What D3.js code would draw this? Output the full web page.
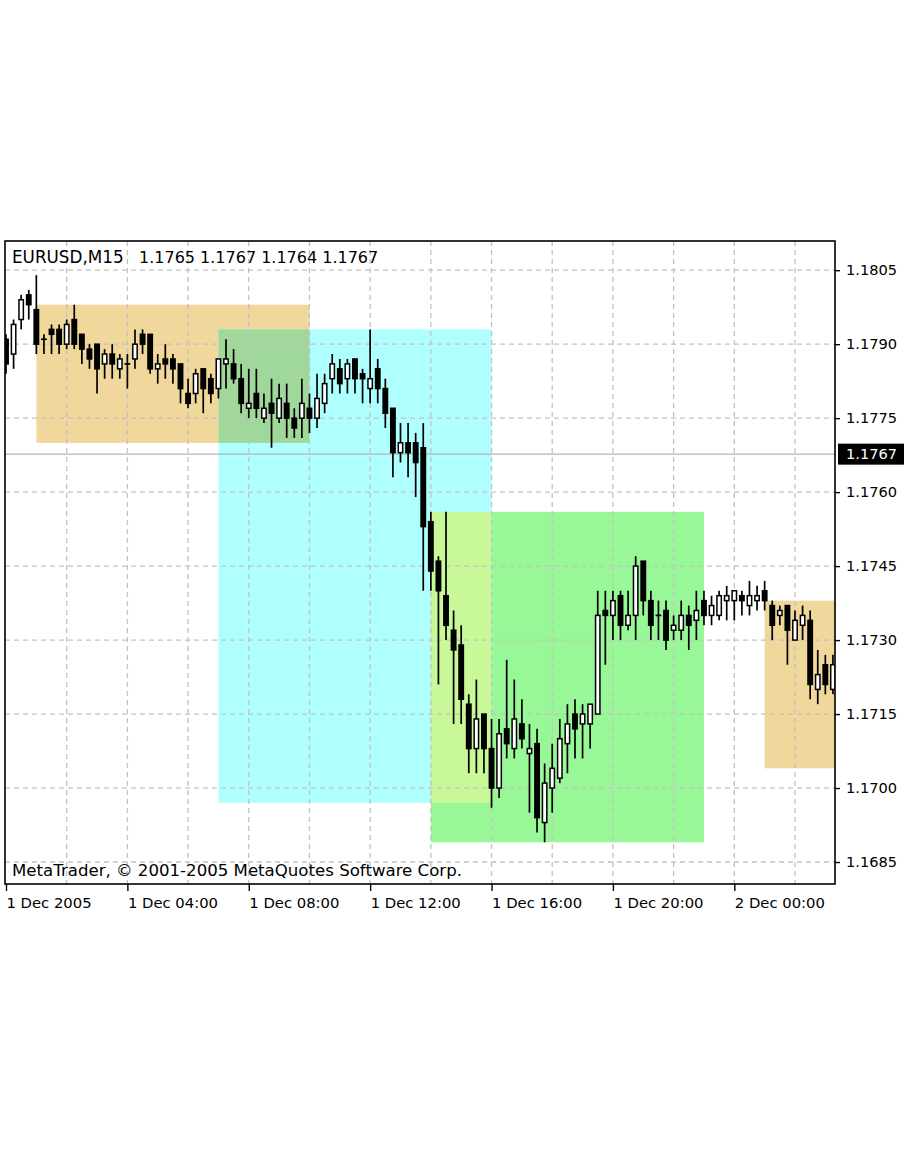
<!DOCTYPE html>
<html><head><meta charset="utf-8">
<script src="https://cdn.jsdelivr.net/npm/d3@7"></script>
<style>
html,body{margin:0;padding:0;background:#fff;}
svg{display:block;}
text{font-family:"DejaVu Sans",sans-serif;fill:#000;}
</style></head><body>
<svg id="chart" width="910" height="1155"></svg>
<script>
// ---- data ----
const symbol = "EURUSD,M15";
const lastBar = ["1.1765","1.1767","1.1764","1.1767"];
const bidPrice = 1.17677;
const bidLabel = "1.1767";
const copyright = "MetaTrader, \u00A9 2001-2005 MetaQuotes Software Corp.";

const opens = [
1.1791,1.1788,1.1795,1.1800,1.1797,1.1791,1.1793,1.1793,1.1790,1.1795,
1.1792,1.1789,1.1790,1.1786,1.1788,1.1785,1.1786,1.1787,1.1792,1.1792,
1.1785,1.1787,1.1787,1.1786,1.1780,1.1780,1.1785,1.1783,1.1781,1.1786,
1.1786,1.1783,1.1777,1.1780,1.1775,1.1778,1.1775,1.1778,1.1775,1.1775,
1.1777,1.1775,1.1778,1.1783,1.1785,1.1783,1.1787,1.1784,1.1781,1.1785,
1.1781,1.1777,1.1768,1.1770,1.1770,1.1769,1.1754,1.1746,1.1739,1.1732,
1.1729,1.1717,1.1708,1.1715,1.1708,1.1700,1.1712,1.1708,1.1713,1.1707,
1.1709,1.1693,1.1700,1.1702,1.1709,1.1715,1.1713,1.1713,1.1715,1.1736,
1.1735,1.1739,1.1733,1.1735,1.1746,1.1738,1.1735,1.1736,1.1732,1.1732,
1.1735,1.1734,1.1738,1.1735,1.1735,1.1738,1.1738,1.1739,1.1737,1.1738,
1.1740,1.1737,1.1735,1.1737,1.1730,1.1733,1.1734,1.1720,1.1725,1.1720];
const highs = [
1.1792,1.1795,1.1800,1.1801,1.1804,1.1792,1.1794,1.1794,1.1795,1.1798,
1.1792,1.1790,1.1790,1.1789,1.1790,1.1788,1.1788,1.1793,1.1793,1.1792,
1.1788,1.1790,1.1788,1.1786,1.1783,1.1785,1.1785,1.1784,1.1787,1.1791,
1.1789,1.1786,1.1785,1.1785,1.1780,1.1783,1.1782,1.1782,1.1777,1.1783,
1.1780,1.1784,1.1784,1.1788,1.1787,1.1787,1.1787,1.1785,1.1793,1.1787,
1.1783,1.1777,1.1774,1.1774,1.1772,1.1774,1.1756,1.1747,1.1756,1.1736,
1.1733,1.1719,1.1722,1.1715,1.1714,1.1714,1.1726,1.1722,1.1718,1.1713,
1.1712,1.1705,1.1709,1.1714,1.1717,1.1718,1.1717,1.1717,1.1740,1.1740,
1.1740,1.1740,1.1740,1.1747,1.1746,1.1740,1.1738,1.1738,1.1735,1.1738,
1.1737,1.1740,1.1740,1.1739,1.1740,1.1741,1.1740,1.1740,1.1742,1.1741,
1.1742,1.1738,1.1737,1.1737,1.1736,1.1737,1.1736,1.1728,1.1727,1.1727];
const lows = [
1.1784,1.1785,1.1793,1.1795,1.1788,1.1788,1.1788,1.1788,1.1789,1.1789,
1.1786,1.1785,1.1780,1.1783,1.1783,1.1783,1.1781,1.1785,1.1788,1.1784,
1.1782,1.1783,1.1782,1.1778,1.1777,1.1778,1.1776,1.1778,1.1779,1.1781,
1.1782,1.1776,1.1775,1.1775,1.1774,1.1769,1.1774,1.1771,1.1771,1.1771,
1.1772,1.1773,1.1776,1.1780,1.1780,1.1780,1.1780,1.1778,1.1778,1.1778,
1.1773,1.1763,1.1766,1.1763,1.1759,1.1740,1.1740,1.1721,1.1730,1.1713,
1.1713,1.1703,1.1703,1.1703,1.1696,1.1698,1.1706,1.1706,1.1708,1.1695,
1.1691,1.1689,1.1695,1.1701,1.1703,1.1706,1.1706,1.1708,1.1715,1.1725,
1.1730,1.1730,1.1732,1.1730,1.1735,1.1730,1.1730,1.1728,1.1730,1.1730,
1.1728,1.1730,1.1733,1.1733,1.1734,1.1734,1.1734,1.1735,1.1735,1.1736,
1.1736,1.1730,1.1733,1.1725,1.1730,1.1730,1.1718,1.1717,1.1719,1.1719];
const closes = [
1.1786,1.1794,1.1799,1.1798,1.1790,1.1791,1.1792,1.1790,1.1794,1.1790,
1.1789,1.1787,1.1785,1.1788,1.1786,1.1787,1.1786,1.1790,1.1790,1.1785,
1.1786,1.1786,1.1785,1.1781,1.1778,1.1784,1.1781,1.1780,1.1787,1.1787,
1.1783,1.1778,1.1778,1.1777,1.1777,1.1776,1.1779,1.1775,1.1773,1.1778,
1.1775,1.1779,1.1782,1.1786,1.1782,1.1786,1.1783,1.1783,1.1783,1.1781,
1.1776,1.1768,1.1770,1.1768,1.1766,1.1753,1.1744,1.1740,1.1733,1.1728,
1.1718,1.1708,1.1714,1.1708,1.1700,1.1711,1.1709,1.1714,1.1710,1.1708,
1.1694,1.1701,1.1704,1.1710,1.1713,1.1712,1.1715,1.1717,1.1735,1.1735,
1.1738,1.1733,1.1735,1.1745,1.1738,1.1733,1.1735,1.1730,1.1733,1.1735,
1.1733,1.1736,1.1735,1.1737,1.1739,1.1739,1.1740,1.1738,1.1739,1.1739,
1.1738,1.1733,1.1736,1.1732,1.1734,1.1735,1.1721,1.1723,1.1721,1.1725];

const xTickBars = [0,16,32,48,64,80,96];
const xTickLabels = ["1 Dec 2005","1 Dec 04:00","1 Dec 08:00","1 Dec 12:00","1 Dec 16:00","1 Dec 20:00","2 Dec 00:00"];
const yTickValues = [1.1685,1.1700,1.1715,1.1730,1.1745,1.1760,1.1775,1.1790,1.1805];

const rectBarFrom = [4,28,56,100];
const rectBarTo = [40,64,92,112];
const rectPriceHigh = [1.1798,1.1793,1.1756,1.1738];
const rectPriceLow = [1.1770,1.1697,1.1689,1.1704];
const rectColors = ["#F0D79B","#AFFFFF","#98F898","#F0D79B"];

// ---- layout ----
const L = 5, R = 835, T = 241, B = 884;
const svg = d3.select("#chart");
const x = d3.scaleLinear().domain([0, 96]).range([6, 734.3]);
const y = d3.scaleLinear().domain([1.1685, 1.1805]).range([862, 270.2]);

svg.append("rect").attr("width",910).attr("height",1155).attr("fill","#fff");
svg.append("defs").append("clipPath").attr("id","plotclip")
  .append("rect").attr("x",L).attr("y",T).attr("width",R-L).attr("height",B-T);
const plot = svg.append("g").attr("clip-path","url(#plotclip)");

// rectangles (background objects, XOR-mixed where they overlap)
const rects = rectBarFrom.map((f,i)=>({x0:x(f),x1:x(rectBarTo[i]),y0:y(rectPriceHigh[i]),y1:y(rectPriceLow[i]),c:rectColors[i]}));
plot.selectAll("rect.obj").data(rects).enter().append("rect").attr("class","obj")
  .attr("x",d=>d.x0).attr("y",d=>d.y0).attr("width",d=>d.x1-d.x0).attr("height",d=>d.y1-d.y0)
  .attr("fill",d=>d.c);
function xorColor(a,b){const p=d3.rgb(a),q=d3.rgb(b);return d3.rgb(p.r^q.r^255,p.g^q.g^255,p.b^q.b^255).formatHex();}
const overlaps=[];
for(let i=0;i<rects.length;i++)for(let j=i+1;j<rects.length;j++){
  const a=rects[i],b=rects[j];
  const x0=Math.max(a.x0,b.x0),x1=Math.min(a.x1,b.x1),y0=Math.max(a.y0,b.y0),y1=Math.min(a.y1,b.y1);
  if(x1>x0&&y1>y0)overlaps.push({x0,x1,y0,y1,c:xorColor(a.c,b.c)});
}
plot.selectAll("rect.ov").data(overlaps).enter().append("rect").attr("class","ov")
  .attr("x",d=>d.x0).attr("y",d=>d.y0).attr("width",d=>d.x1-d.x0).attr("height",d=>d.y1-d.y0)
  .attr("fill",d=>d.c);

// grid
const gridBars = d3.range(8, 110, 8);
plot.selectAll("line.vg").data(gridBars).enter().append("line")
  .attr("x1",d=>x(d)).attr("x2",d=>x(d)).attr("y1",T).attr("y2",B)
  .attr("stroke","#c2c2c2").attr("stroke-width",1.3).attr("stroke-dasharray","5,4");
plot.selectAll("line.hg").data(yTickValues).enter().append("line")
  .attr("x1",L).attr("x2",R).attr("y1",d=>y(d)).attr("y2",d=>y(d))
  .attr("stroke","#c2c2c2").attr("stroke-width",1.3).attr("stroke-dasharray","5,4");

// bid line
plot.append("line").attr("x1",L).attr("x2",R).attr("y1",y(bidPrice)).attr("y2",y(bidPrice))
  .attr("stroke","#b4b4b4").attr("stroke-width",1.3);

// candles
const bars = opens.map((o,i)=>({i,o,h:highs[i],l:lows[i],c:closes[i]}));
const g = plot.selectAll("g.bar").data(bars).enter().append("g");
g.append("line").attr("x1",d=>x(d.i)).attr("x2",d=>x(d.i))
  .attr("y1",d=>y(d.h)).attr("y2",d=>y(d.l)).attr("stroke","#000").attr("stroke-width",1.7);
g.each(function(d){
  const s=d3.select(this), cx=x(d.i);
  if(d.o===d.c){
    s.append("line").attr("x1",cx-2.9).attr("x2",cx+2.9).attr("y1",y(d.o)).attr("y2",y(d.o))
      .attr("stroke","#000").attr("stroke-width",1.7);
  } else if(d.c>d.o){
    s.append("rect").attr("x",cx-2.2).attr("width",4.4)
      .attr("y",y(d.c)).attr("height",y(d.o)-y(d.c))
      .attr("fill","#fff").attr("stroke","#000").attr("stroke-width",1.5);
  } else {
    s.append("rect").attr("x",cx-2.95).attr("width",5.9)
      .attr("y",y(d.o)-0.75).attr("height",y(d.c)-y(d.o)+1.5).attr("fill","#000");
  }
});

// frame
svg.append("rect").attr("x",L).attr("y",T).attr("width",R-L).attr("height",B-T)
  .attr("fill","none").attr("stroke","#000").attr("stroke-width",1.6);

// right axis
const yAxis = d3.axisRight(y).tickValues(yTickValues).tickSize(5).tickPadding(6)
  .tickFormat(d3.format(".4f"));
const ya = svg.append("g").attr("transform",`translate(${R},0)`).call(yAxis);
ya.select(".domain").remove();
ya.selectAll("line").attr("stroke","#000").attr("stroke-width",1.4);
ya.selectAll("text").attr("font-family","DejaVu Sans").attr("font-size",14.6).attr("fill","#000");

// bottom axis
const xAxis = d3.axisBottom(x).tickValues(xTickBars).tickSize(7).tickFormat((d,i)=>xTickLabels[i]);
const xa = svg.append("g").attr("transform",`translate(0,${B})`).call(xAxis);
xa.select(".domain").remove();
xa.selectAll("line").attr("stroke","#000").attr("stroke-width",1.4);
xa.selectAll("text").attr("font-family","DejaVu Sans").attr("font-size",14.8).attr("fill","#000")
  .attr("text-anchor","start").attr("dy",null).attr("y",23.5).attr("x",0);

// bid label
const by = y(bidPrice);
svg.append("rect").attr("x",838).attr("y",by-10.5).attr("width",66).attr("height",21).attr("fill","#000");
svg.append("text").attr("x",846).attr("y",by).attr("dy","0.36em").attr("font-size",14.6)
  .style("fill","#fff").text(bidLabel);

// header
svg.append("text").attr("x",12).attr("y",262.5).attr("font-size",16.8).text(symbol);
svg.append("text").attr("x",139).attr("y",262.5).attr("font-size",16)
  .style("white-space","pre").text(lastBar.join(" "));

// footer
svg.append("text").attr("x",12).attr("y",876).attr("font-size",16.6).text(copyright);
</script>
</body></html>
